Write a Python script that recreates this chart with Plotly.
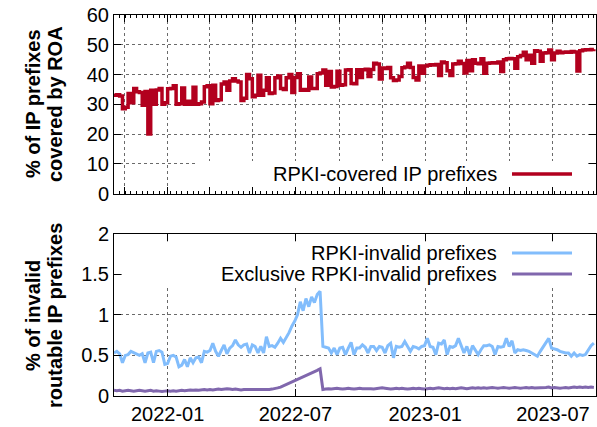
import pandas as pd
import plotly.graph_objects as go

# ---------------- data (sampled every 4 days from 2021-10-17) ----------------
START_DATE = "2021-10-17"
STEP = "4D"

rpki_covered = [
    33.0, 33.2, 32.8, 28.5, 29.0, 33.6, 30.5, 35.3, 34.2, 34.0,
    29.7, 34.3, 20.0, 34.7, 30.0, 34.8, 35.3, 30.0, 30.5, 35.2,
    35.3, 36.2, 30.0, 30.2, 35.5, 30.0, 31.0, 30.0, 35.7, 30.0,
    30.2, 30.8, 35.9, 36.2, 30.2, 36.4, 31.3, 31.5, 36.8, 37.5,
    34.7, 37.8, 38.6, 37.8, 37.5, 31.3, 32.0, 40.0, 38.6, 32.5,
    33.0, 39.8, 33.0, 34.7, 38.9, 33.6, 33.8, 38.9, 39.5, 35.3,
    35.0, 38.9, 40.0, 34.0, 39.0, 40.3, 34.7, 35.0, 34.7, 39.2,
    35.3, 35.3, 40.3, 40.5, 41.5, 36.4, 41.0, 35.8, 36.0, 41.1,
    36.4, 36.6, 41.5, 41.6, 37.0, 36.9, 41.6, 39.0, 41.6, 41.8,
    39.3, 41.7, 43.8, 43.5, 38.5, 42.2, 42.0, 42.4, 38.9, 38.0,
    38.2, 39.3, 42.3, 42.5, 43.8, 42.4, 39.0, 38.2, 42.9, 40.4,
    42.9, 43.1, 43.3, 43.2, 43.4, 39.7, 44.2, 44.0, 41.3, 39.7,
    43.5, 43.6, 44.5, 43.7, 40.5, 44.7, 41.3, 45.0, 43.8, 43.6,
    45.3, 40.4, 43.8, 43.9, 44.0, 43.9, 44.2, 41.0, 45.0, 45.3,
    45.4, 45.3, 42.1, 46.0, 46.4, 47.5, 45.0, 46.5, 43.8, 48.0,
    47.8, 44.5, 47.2, 47.3, 48.2, 45.0, 47.2, 47.8, 47.3, 47.5,
    47.6, 47.5, 47.7, 47.6, 41.2, 48.0, 48.2, 48.3, 48.3, 48.4,
    48.5,
]

rpki_invalid = [
    0.53, 0.55, 0.52, 0.41, 0.50, 0.51, 0.55, 0.53, 0.51, 0.50,
    0.52, 0.41, 0.53, 0.54, 0.41, 0.55, 0.56, 0.54, 0.39, 0.40,
    0.49, 0.50, 0.48, 0.36, 0.38, 0.45, 0.36, 0.47, 0.41, 0.47,
    0.48, 0.41, 0.55, 0.54, 0.56, 0.65, 0.55, 0.49, 0.56, 0.63,
    0.52, 0.59, 0.62, 0.69, 0.63, 0.60, 0.63, 0.64, 0.53, 0.63,
    0.61, 0.53, 0.61, 0.53, 0.73, 0.61, 0.62, 0.60, 0.65, 0.71,
    0.66, 0.72, 0.78, 0.86, 0.92, 1.00, 1.16, 1.05, 1.20, 1.10,
    1.22, 1.15, 1.25, 1.29, 0.61, 0.60, 0.59, 0.53, 0.59, 0.51,
    0.59, 0.60, 0.51, 0.59, 0.66, 0.51, 0.59, 0.59, 0.63, 0.60,
    0.53, 0.61, 0.61, 0.56, 0.61, 0.60, 0.53, 0.62, 0.65, 0.47,
    0.61, 0.60, 0.61, 0.67, 0.61, 0.55, 0.61, 0.60, 0.58, 0.61,
    0.62, 0.71, 0.61, 0.60, 0.51, 0.65, 0.64, 0.69, 0.51, 0.61,
    0.60, 0.62, 0.71, 0.61, 0.53, 0.61, 0.51, 0.62, 0.57, 0.51,
    0.57, 0.62, 0.62, 0.63, 0.61, 0.51, 0.61, 0.60, 0.61, 0.71,
    0.61, 0.68, 0.53, 0.57, 0.56, 0.57, 0.56, 0.55, 0.53, 0.51,
    0.49, 0.55, 0.60, 0.65, 0.71, 0.59, 0.58, 0.57, 0.55, 0.54,
    0.53, 0.53, 0.49, 0.53, 0.49, 0.51, 0.50, 0.51, 0.57, 0.62,
    0.65,
]

exclusive_invalid = [
    0.070, 0.065, 0.070, 0.060, 0.065, 0.070, 0.065, 0.060, 0.065, 0.070,
    0.065, 0.060, 0.065, 0.070, 0.060, 0.065, 0.060, 0.055, 0.060, 0.065,
    0.060, 0.065, 0.060, 0.065, 0.070, 0.065, 0.070, 0.075, 0.070, 0.075,
    0.070, 0.075, 0.080, 0.075, 0.080, 0.075, 0.080, 0.085, 0.080, 0.085,
    0.090, 0.085, 0.080, 0.085, 0.080, 0.075, 0.080, 0.080, 0.075, 0.080,
    0.075, 0.080, 0.075, 0.080, 0.075, 0.080, 0.085, 0.090, 0.100, 0.110,
    0.125, 0.140, 0.160, 0.175, 0.190, 0.200, 0.215, 0.235, 0.250, 0.265,
    0.280, 0.290, 0.315, 0.335, 0.080, 0.085, 0.090, 0.085, 0.090, 0.095,
    0.090, 0.085, 0.090, 0.095, 0.090, 0.085, 0.090, 0.095, 0.090, 0.090,
    0.095, 0.090, 0.085, 0.090, 0.095, 0.100, 0.095, 0.090, 0.085, 0.090,
    0.095, 0.090, 0.095, 0.090, 0.085, 0.090, 0.095, 0.090, 0.095, 0.090,
    0.085, 0.090, 0.095, 0.090, 0.095, 0.100, 0.095, 0.090, 0.095, 0.090,
    0.095, 0.090, 0.095, 0.100, 0.095, 0.090, 0.095, 0.100, 0.095, 0.100,
    0.095, 0.100, 0.095, 0.100, 0.105, 0.100, 0.095, 0.100, 0.105, 0.100,
    0.095, 0.100, 0.105, 0.100, 0.095, 0.100, 0.105, 0.100, 0.105, 0.100,
    0.100, 0.105, 0.100, 0.105, 0.110, 0.100, 0.105, 0.100, 0.095, 0.100,
    0.105, 0.100, 0.105, 0.110, 0.105, 0.110, 0.105, 0.110, 0.105, 0.110,
    0.105,
]

top_legend = ["RPKI-covered IP prefixes"]
bottom_legend = ["RPKI-invalid prefixes", "Exclusive RPKI-invalid prefixes"]
top_title = ["% of IP prefixes", "covered by ROA"]
bottom_title = ["% of invalid", "routable IP prefixes"]

X_RANGE = ["2021-10-17", "2023-08-31"]

dates = pd.date_range(START_DATE, periods=len(rpki_covered), freq=STEP)

# ---------------- styling ----------------
W, H = 597, 427
ML, MR, MT, MB = 114, 1, 15, 31
PW, PH = W - ML - MR, H - MT - MB
TOP_Y_PX = (15, 193.6)      # top panel (top, bottom) in pixels
BOT_Y_PX = (233.6, 396)     # bottom panel

def px_x(px):
    return (px - ML) / PW

def px_y(py):
    return (H - MB - py) / PH

RED = "#b2001e"
BLUE = "#82bdfc"
PURPLE = "#8067ad"
FONT = "Liberation Sans, Arial, sans-serif"
GRID = dict(showgrid=True, gridcolor="#6a6a6a", griddash="dot", gridwidth=1)
AX = dict(showline=True, linecolor="black", linewidth=1, mirror="ticks",
          ticks="inside", ticklen=7, tickcolor="black", zeroline=False,
          tickfont=dict(family=FONT, size=20, color="black"))

fig = go.Figure()
fig.add_trace(go.Scatter(x=dates, y=rpki_covered, mode="lines",
                         line=dict(color=RED, width=3.5, shape="hv"),
                         xaxis="x2", yaxis="y2", name=top_legend[0], showlegend=False))
fig.add_trace(go.Scatter(x=dates, y=rpki_invalid, mode="lines",
                         line=dict(color=BLUE, width=3),
                         xaxis="x", yaxis="y", name=bottom_legend[0], showlegend=False))
fig.add_trace(go.Scatter(x=dates, y=exclusive_invalid, mode="lines",
                         line=dict(color=PURPLE, width=3),
                         xaxis="x", yaxis="y", name=bottom_legend[1], showlegend=False))

fig.update_layout(
    width=W, height=H,
    margin=dict(l=ML, r=MR, t=MT, b=MB, pad=0, autoexpand=False),
    paper_bgcolor="white", plot_bgcolor="white",
    font=dict(family=FONT, size=20, color="black"),
    xaxis=dict(domain=[0, 1], anchor="y", range=X_RANGE, type="date",
               tick0="2022-01-01", dtick="M6", tickformat="%Y-%m",
               automargin=False, **GRID, **AX),
    yaxis=dict(domain=[0, px_y(BOT_Y_PX[0])], anchor="x", range=[0, 2],
               dtick=0.5, automargin=False, **GRID, **AX),
    xaxis2=dict(domain=[0, 1], anchor="y2", range=X_RANGE, type="date",
                tick0="2021-11-01", dtick="M2", showticklabels=False,
                minor=dict(ticks="inside", ticklen=3, tickcolor="black",
                           dtick=8 * 86400000, showgrid=False),
                automargin=False, **GRID, **AX),
    yaxis2=dict(domain=[px_y(TOP_Y_PX[1]), 1], anchor="x2", range=[0, 60],
                dtick=10, automargin=False, **GRID, **AX),
)

# opaque key boxes (hide grid behind the keys, like gnuplot "key opaque");
# inset so the frame and its inside ticks stay visible
fig.add_shape(type="rect", xref="paper", yref="paper", layer="above",
              x0=px_x(197), x1=px_x(588), y0=px_y(186), y1=px_y(161),
              fillcolor="white", line=dict(width=0))
fig.add_shape(type="rect", xref="paper", yref="paper", layer="above",
              x0=px_x(122), x1=px_x(588), y0=px_y(287), y1=px_y(241.6),
              fillcolor="white", line=dict(width=0))

# key entries (gnuplot style: text right-aligned, sample on the right)
keys = [(top_legend[0], RED, 174, 3.5),
        (bottom_legend[0], BLUE, 253, 3),
        (bottom_legend[1], PURPLE, 274, 3)]
for text, col, ypx, lw in keys:
    fig.add_annotation(text=text, xref="paper", yref="paper",
                       x=px_x(499), y=px_y(ypx), xanchor="right", yanchor="middle",
                       showarrow=False, font=dict(family=FONT, size=20, color="black"))
    fig.add_shape(type="line", xref="paper", yref="paper", layer="above",
                  x0=px_x(512), x1=px_x(572), y0=px_y(ypx), y1=px_y(ypx),
                  line=dict(color=col, width=lw))

# y-axis titles (two bold lines each)
for lines, yc in ((top_title, 104), (bottom_title, 316)):
    for txt, xc in zip(lines, (33, 55)):
        fig.add_annotation(text="<b>%s</b>" % txt, xref="paper", yref="paper",
                           x=px_x(xc), y=px_y(yc), xanchor="center", yanchor="middle",
                           textangle=-90, showarrow=False,
                           font=dict(family=FONT, size=20, color="black"))

fig.write_html("out.html", config={"displayModeBar": False},
               post_script="document.body.style.margin='0';document.body.style.overflow='hidden';")
